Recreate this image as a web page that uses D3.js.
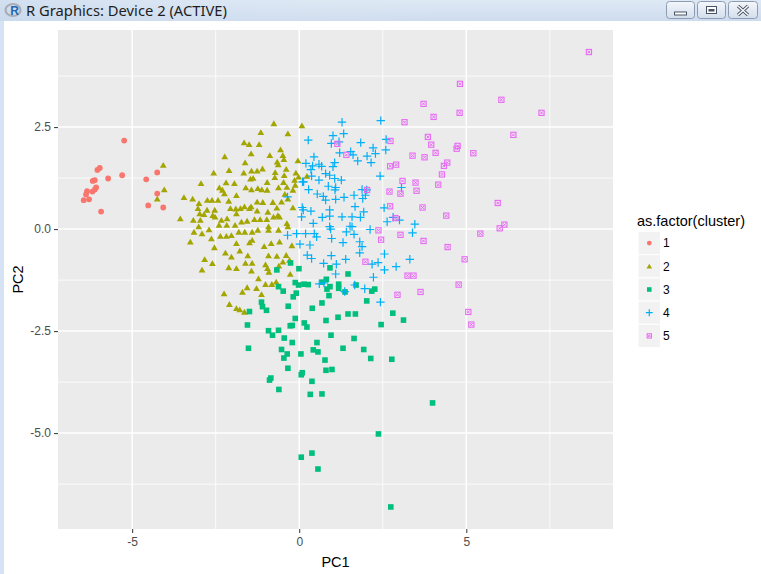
<!DOCTYPE html>
<html>
<head>
<meta charset="utf-8">
<script src="https://cdn.jsdelivr.net/npm/d3@7"></script>
<style>
html,body{margin:0;padding:0;background:#fff;}
svg{display:block;}
text{font-family:"Liberation Sans",Arial,sans-serif;}
</style>
</head>
<body>
<svg id="chart" width="761" height="574"></svg>
<script>
// ---------------- data ----------------
const clusterLabels = ["1","2","3","4","5"];
const clusterColors = ["#F8766D","#A3A500","#00BF7D","#00B0F6","#E76BF3"];
const xTicks = [-5, 0, 5];
const xMinor = [-2.5, 2.5, 7.5];
const yTicks = [2.5, 0, -2.5, -5];
const yMinor = [3.75, 1.25, -1.25, -3.75, -6.25];
const xLimits = [-7.22, 9.39];
const yLimits = [-7.35, 4.88];

const cluster1 = [[-5.24,2.17],[-5.97,1.50],[-6.04,1.45],[-6.18,1.18],[-6.12,1.20],[-5.72,1.24],[-5.30,1.32],[-6.08,1.02],[-6.12,0.97],[-6.19,0.92],[-6.35,0.93],[-6.38,0.85],[-6.29,0.73],[-6.45,0.71],[-5.93,0.43],[-4.58,1.22],[-4.25,1.39],[-4.25,0.87],[-4.52,0.58],[-4.07,0.53]];

const cluster2 = [[-0.76,2.59],[0.08,2.54],[-1.15,2.37],[-0.34,2.34],
[-1.65,2.12],[-1.50,2.08],[-1.20,2.08],[-0.56,1.95],
[-1.44,1.85],[-2.23,1.78],[-0.88,1.81],[-0.49,1.81],[-0.46,1.71],
[-1.62,1.63],[-0.66,1.65],[-0.63,1.58],[-0.04,1.68],[-4.07,1.57],
[-2.10,1.44],[-1.66,1.38],[-1.43,1.43],[-1.26,1.43],[-1.10,1.48],[-0.72,1.39],[-0.39,1.47],[-2.56,1.38],[-0.45,1.32],[-0.10,1.38],[-0.02,1.28],[0.23,1.30],
[-1.46,1.23],[-1.38,1.25],[-2.19,1.14],[-1.94,1.12],[-0.96,1.15],[-2.94,1.12],[-0.73,1.27],[-0.47,1.15],[-0.14,1.20],[-0.12,1.08],
[-2.39,1.02],[-2.30,0.96],[-2.24,0.87],[-1.60,1.02],[-1.43,0.97],[-1.24,1.00],[-1.12,0.97],[-0.96,0.96],[-0.62,1.02],[-0.37,1.03],[-0.19,0.96],[-0.43,0.86],[-1.88,0.83],[-4.04,0.97],
[-3.45,0.78],[-3.19,0.74],[-4.25,0.74],[-2.75,0.71],[-2.61,0.71],[-2.43,0.71],[-3.00,0.63],[-1.26,0.67],[-1.09,0.66],[-0.79,0.66],[-0.53,0.67],[-0.34,0.74],[-2.11,0.69],
[-3.03,0.51],[-2.76,0.47],[-2.53,0.47],[-2.06,0.51],[-1.90,0.50],[-1.76,0.51],[-1.64,0.55],[-1.49,0.51],[-1.44,0.55],[-1.26,0.45],[-0.94,0.42],[-0.67,0.52],[-0.19,0.53],[-2.98,0.38],[-2.85,0.36],[-2.59,0.34],[-1.88,0.38],[-0.64,0.34],
[-3.56,0.26],[-3.17,0.22],[-2.96,0.22],[-2.52,0.30],[-2.33,0.22],[-2.16,0.26],[-1.73,0.18],[-1.56,0.20],[-1.34,0.24],[-1.17,0.24],[-0.97,0.24],[-0.77,0.30],[-0.59,0.30],[-0.37,0.14],[-2.17,0.10],[-2.40,0.10],[-1.92,0.10],[-0.92,0.06],
[-3.01,0.06],[-2.70,-0.01],[-3.15,-0.07],[-2.91,-0.11],[-2.36,-0.17],[-2.18,-0.17],[-2.03,-0.15],[-1.81,-0.07],[-1.63,-0.07],[-1.41,-0.07],[-1.24,-0.02],[-0.92,-0.02],[-0.62,-0.02],[-0.34,0.06],[-2.63,-0.23],
[-3.26,-0.31],[-1.49,-0.33],[-1.41,-0.27],[-1.05,-0.42],[-0.84,-0.35],[-0.59,-0.31],[-0.22,-0.40],[-2.54,-0.45],[-1.88,-0.35],[-2.21,-0.58],[-1.78,-0.53],[-2.03,-0.68],
[-1.54,-0.65],[-0.92,-0.65],[-0.67,-0.66],[-0.39,-0.64],[-0.29,-0.76],[-0.49,-0.80],[-2.83,-0.74],[-2.60,-0.84],[-2.11,-0.94],[-1.88,-0.96],[-1.41,-0.83],[-1.61,-0.83],[-1.01,-0.87],[-0.95,-0.96],[-0.91,-1.05],[-2.91,-1.00],[-1.43,-1.02],[-0.61,-0.90],[-0.27,-1.10],
[-1.22,-1.21],[-1.01,-1.35],[-0.82,-1.35],[-0.69,-1.29],[-1.56,-1.43],[-1.28,-1.45],[-1.70,-1.54],[-2.25,-1.58],[-1.13,-1.60],[-2.09,-1.84],[-1.88,-1.94],[-1.78,-1.97],[-1.64,-2.03]];

const cluster3 = [[-0.67,-1.00],[-0.26,-0.83],[-0.01,-0.97],[0.92,-0.95],[1.46,-1.10],[-0.62,-1.41],[-0.48,-1.52],[-0.12,-1.31],[-0.02,-1.37],[0.14,-1.35],[0.27,-1.36],[0.69,-1.30],[0.81,-1.23],[0.92,-1.41],[0.83,-1.47],[1.18,-1.35],[1.18,-1.45],[1.37,-1.54],[1.70,-1.37],[2.26,-1.47],[2.17,-1.52],[0.89,-1.63],[-0.09,-1.57],[-0.18,-1.66],[2.02,-1.76],[-1.13,-1.79],[-1.10,-1.90],[-0.98,-1.99],[-1.49,-2.02],[-0.33,-1.89],[0.39,-1.94],[0.68,-1.81],[1.46,-2.08],[1.68,-2.08],[2.80,-2.06],[3.12,-2.23],[-0.12,-2.19],[0.80,-2.24],[1.16,-2.16],[-1.55,-2.35],[-0.92,-2.49],[-0.80,-2.60],[-0.62,-2.48],[-0.27,-2.37],[-0.21,-2.36],[0.15,-2.30],[0.23,-2.40],[2.45,-2.34],[-0.45,-2.67],[-0.21,-2.78],[0.53,-2.78],[0.95,-2.60],[1.64,-2.68],[-1.52,-2.92],[-0.53,-2.95],[-0.36,-3.06],[-0.46,-3.16],[0.05,-3.06],[0.42,-2.96],[0.56,-3.01],[1.31,-2.92],[1.93,-2.95],[2.14,-3.17],[2.77,-3.19],[0.77,-3.21],[-0.34,-3.41],[0.80,-3.46],[0.98,-3.44],[-0.85,-3.65],[-0.89,-3.70],[0.06,-3.57],[0.09,-3.52],[0.38,-3.73],[-0.61,-3.93],[0.33,-4.05],[0.68,-4.04],[3.99,-4.26],[2.37,-5.02],[0.38,-5.49],[0.06,-5.59],[0.56,-5.88],[2.74,-6.81]];

const cluster4 = [[1.28,2.62],[2.44,2.66],[0.27,2.18],[1.01,2.29],[1.33,2.34],[0.96,2.10],[1.19,2.14],[1.84,2.12],[2.60,2.20],[2.21,1.99],[2.59,1.94],[0.44,1.77],[1.21,1.87],[1.54,1.90],[1.61,1.82],[1.75,1.67],[2.03,1.79],[2.28,1.85],[2.15,1.63],[0.20,1.61],[0.40,1.55],[0.59,1.59],[0.67,1.54],[1.06,1.63],[1.01,1.53],[0.79,1.36],[0.91,1.32],[0.35,1.46],[0.59,1.20],[0.10,1.16],[1.06,1.24],[1.26,1.20],[2.42,1.30],[0.87,1.05],[1.09,1.02],[0.28,0.97],[0.54,0.86],[0.79,0.71],[1.09,0.73],[1.34,0.78],[1.64,0.83],[1.88,0.97],[1.90,0.75],[1.98,0.83],[3.06,1.02],[1.67,0.55],[1.93,0.42],[2.54,0.52],[0.09,0.53],[0.35,0.44],[0.91,0.47],[0.07,0.30],[0.69,0.29],[0.91,0.32],[1.28,0.30],[1.58,0.30],[1.83,0.29],[2.81,0.29],[2.63,0.18],[3.00,0.22],[3.46,0.12],[0.42,0.14],[0.91,0.06],[0.94,0.00],[1.58,0.06],[2.12,-0.01],[-0.35,-0.15],[-0.08,-0.11],[0.19,-0.11],[0.45,-0.11],[0.52,-0.19],[0.97,-0.23],[1.41,-0.07],[1.64,-0.13],[1.81,-0.31],[1.31,-0.33],[1.88,-0.43],[3.39,-0.09],[0.32,-0.39],[1.81,-0.58],[2.55,-0.61],[0.24,-0.64],[0.37,-0.72],[0.96,-0.65],[0.73,-0.84],[1.11,-0.86],[1.39,-0.74],[2.18,-0.86],[2.36,-0.82],[2.90,-0.92],[3.31,-0.74],[2.55,-1.00],[1.09,-1.10],[2.22,-1.18],[0.60,-1.34],[0.74,-1.32],[1.36,-1.53],[1.66,-1.37],[1.96,-1.46],[2.43,-1.79],[-0.35,0.79],[0.02,-0.37],[0.13,1.16],[0.37,1.30],[1.07,0.96],[0.72,0.80],[2.02,0.96],[1.52,0.07],[0.12,0.47]];

const cluster5 = [[4.81,3.56],[6.05,3.17],[3.72,3.07],[4.02,2.75],[4.80,2.85],[7.25,2.85],[3.15,2.62],[6.41,2.31],[3.85,2.26],[3.95,2.07],[2.73,2.16],[4.74,2.04],[4.71,1.97],[5.21,1.86],[4.08,1.87],[3.39,1.80],[3.75,1.76],[4.43,1.63],[4.33,1.55],[2.72,1.54],[2.90,1.58],[4.27,1.34],[3.09,1.18],[3.48,1.14],[4.16,1.09],[3.51,0.94],[2.70,0.92],[3.03,0.87],[5.94,0.64],[3.69,0.53],[2.72,0.56],[4.40,0.33],[2.88,0.27],[6.14,0.11],[6.00,0.02],[5.42,-0.11],[2.37,-0.03],[3.03,-0.14],[2.45,-0.26],[3.72,-0.29],[4.44,-0.44],[4.95,-0.74],[1.98,-0.80],[3.24,-1.14],[3.42,-1.14],[4.77,-1.36],[3.63,-1.54],[2.94,-1.61],[5.06,-2.03],[5.15,-2.34],[1.14,2.09],[1.41,1.82],[2.03,0.96],[8.67,4.34]];

const clusters = [cluster1, cluster2, cluster3, cluster4, cluster5];

// ---------------- drawing ----------------
const svg = d3.select("#chart");
const W = 761, H = 574;
const panel = {left: 58, right: 613, top: 30, bottom: 529};

// window chrome
const defs = svg.append("defs");
const tg = defs.append("linearGradient").attr("id","titleg").attr("x1",0).attr("y1",0).attr("x2",0).attr("y2",1);
tg.append("stop").attr("offset","0%").attr("stop-color","#dfe9f5");
tg.append("stop").attr("offset","100%").attr("stop-color","#cddcee");
const hg = defs.append("linearGradient").attr("id","titleh").attr("x1",0).attr("y1",0).attr("x2",1).attr("y2",0);
hg.append("stop").attr("offset","0%").attr("stop-color","#c8d8ec").attr("stop-opacity",0.6);
hg.append("stop").attr("offset","60%").attr("stop-color","#e4ecf6").attr("stop-opacity",0);
const bg = defs.append("linearGradient").attr("id","btng").attr("x1",0).attr("y1",0).attr("x2",0).attr("y2",1);
bg.append("stop").attr("offset","0%").attr("stop-color","#f4f7fb");
bg.append("stop").attr("offset","100%").attr("stop-color","#d3deec");

svg.append("rect").attr("x",0).attr("y",0).attr("width",W).attr("height",H).attr("fill","#ffffff");
svg.append("rect").attr("x",0).attr("y",0).attr("width",W).attr("height",21).attr("fill","url(#titleg)");
svg.append("rect").attr("x",0).attr("y",0).attr("width",W).attr("height",21).attr("fill","url(#titleh)");
svg.append("rect").attr("x",0).attr("y",21).attr("width",4).attr("height",H-21).attr("fill","#d5e3f4");

// R icon
const icon = svg.append("g").attr("transform","translate(13,10)");
icon.append("ellipse").attr("rx",7.5).attr("ry",6).attr("fill","none").attr("stroke","#a9adb5").attr("stroke-width",2.2);
icon.append("text").attr("x",1.5).attr("y",5).attr("text-anchor","middle").attr("font-size",12).attr("font-weight","bold").attr("fill","#2266b8").text("R");

svg.append("text").attr("x",26).attr("y",15.5).attr("font-size",13.5).attr("fill","#1e1e1e")
  .attr("textLength",201).attr("lengthAdjust","spacingAndGlyphs")
  .style("font-family","'Noto Sans','DejaVu Sans',sans-serif").text("R Graphics: Device 2 (ACTIVE)");

// window buttons
const buttons = [{x:666,w:29,type:"min"},{x:697,w:29,type:"max"},{x:728,w:30,type:"close"}];
buttons.forEach(b => {
  svg.append("rect").attr("x",b.x+0.5).attr("y",1.5).attr("width",b.w-1).attr("height",17).attr("rx",3)
    .attr("fill","url(#btng)").attr("stroke","#8d9bb0");
  const cx = b.x + b.w/2;
  if (b.type==="min") {
    svg.append("rect").attr("x",cx-6).attr("y",12).attr("width",12).attr("height",3).attr("fill","#fff").attr("stroke","#4a5464").attr("stroke-width",1);
  } else if (b.type==="max") {
    svg.append("rect").attr("x",cx-5).attr("y",6.5).attr("width",10).attr("height",7).attr("fill","#fff").attr("stroke","#4a5464").attr("stroke-width",1);
    svg.append("rect").attr("x",cx-3).attr("y",9).attr("width",6).attr("height",2.5).attr("fill","#4a5464");
  } else {
    svg.append("path").attr("d",`M${cx-5},${6} L${cx+5},${15} M${cx+5},${6} L${cx-5},${15}`)
      .attr("stroke","#4a5464").attr("stroke-width",3.2).attr("fill","none");
    svg.append("path").attr("d",`M${cx-5},${6} L${cx+5},${15} M${cx+5},${6} L${cx-5},${15}`)
      .attr("stroke","#ffffff").attr("stroke-width",1.4).attr("fill","none");
  }
});

// scales
const x = d3.scaleLinear().domain(xLimits).range([panel.left, panel.right]);
const y = d3.scaleLinear().domain(yLimits).range([panel.bottom, panel.top]);

// panel
svg.append("rect").attr("x",panel.left).attr("y",panel.top)
  .attr("width",panel.right-panel.left).attr("height",panel.bottom-panel.top).attr("fill","#EBEBEB");

const grid = svg.append("g");
grid.selectAll(".vmin").data(xMinor).join("line")
  .attr("x1",d=>x(d)).attr("x2",d=>x(d)).attr("y1",panel.top).attr("y2",panel.bottom)
  .attr("stroke","#fff").attr("stroke-width",0.8);
grid.selectAll(".hmin").data(yMinor).join("line")
  .attr("y1",d=>y(d)).attr("y2",d=>y(d)).attr("x1",panel.left).attr("x2",panel.right)
  .attr("stroke","#fff").attr("stroke-width",0.8);
grid.selectAll(".vmaj").data(xTicks).join("line")
  .attr("x1",d=>x(d)).attr("x2",d=>x(d)).attr("y1",panel.top).attr("y2",panel.bottom)
  .attr("stroke","#fff").attr("stroke-width",1.5);
grid.selectAll(".hmaj").data(yTicks).join("line")
  .attr("y1",d=>y(d)).attr("y2",d=>y(d)).attr("x1",panel.left).attr("x2",panel.right)
  .attr("stroke","#fff").attr("stroke-width",1.5);

// axes
const xAxis = d3.axisBottom(x).tickValues(xTicks).tickFormat(d3.format("d")).tickSize(4).tickPadding(4);
const yAxis = d3.axisLeft(y).tickValues(yTicks).tickFormat(d3.format(".1f")).tickSize(4).tickPadding(3);
const gx = svg.append("g").attr("transform",`translate(0,${panel.bottom})`).call(xAxis);
const gy = svg.append("g").attr("transform",`translate(${panel.left},0)`).call(yAxis);
[gx,gy].forEach(g=>{
  g.select(".domain").remove();
  g.selectAll(".tick line").attr("stroke","#333333").attr("stroke-width",1);
  g.selectAll(".tick text").attr("fill","#4D4D4D").attr("font-size",12)
    .style("font-family","'Liberation Sans',Arial,sans-serif");
});
gy.selectAll(".tick text").text(d=>d3.format(".1f")(d).replace("−","-"));
gx.selectAll(".tick text").text(d=>String(d));

svg.append("text").attr("x",(panel.left+panel.right)/2).attr("y",567).attr("text-anchor","middle")
  .attr("font-size",14.5).attr("fill","#000").text("PC1");
svg.append("text").attr("transform",`translate(23,${(panel.top+panel.bottom)/2}) rotate(-90)`)
  .attr("text-anchor","middle").attr("font-size",14.5).attr("fill","#000").text("PC2");

// marks
function drawShape(g, k, s) {
  const col = clusterColors[k];
  if (k===0) {
    g.append("circle").attr("r",2.9*s).attr("fill",col);
  } else if (k===1) {
    g.append("path").attr("d",`M0,${-3.1*s} L${3.4*s},${2.7*s} L${-3.4*s},${2.7*s} Z`).attr("fill",col);
  } else if (k===2) {
    g.append("rect").attr("x",-2.8*s).attr("y",-2.8*s).attr("width",5.6*s).attr("height",5.6*s).attr("fill",col);
  } else if (k===3) {
    g.append("path").attr("d",`M${-4.2*s},0 H${4.2*s} M0,${-4.2*s} V${4.2*s}`).attr("stroke",col).attr("stroke-width",1.2).attr("fill","none");
  } else {
    g.append("rect").attr("x",-2.6*s).attr("y",-2.6*s).attr("width",5.2*s).attr("height",5.2*s).attr("fill","none").attr("stroke",col).attr("stroke-width",1.1);
    g.append("path").attr("d",`M${-1.4*s},${-1.4*s} L${1.4*s},${1.4*s} M${1.4*s},${-1.4*s} L${-1.4*s},${1.4*s}`).attr("stroke",col).attr("stroke-width",1).attr("fill","none");
  }
}

const marks = svg.append("g");
clusters.forEach((pts, k) => {
  const gk = marks.append("g").attr("class","cluster"+(k+1));
  gk.selectAll("g").data(pts).join("g")
    .attr("transform", d => `translate(${x(d[0])},${y(d[1])})`)
    .each(function(){ drawShape(d3.select(this), k, 1); });
});

// legend
const lg = svg.append("g");
lg.append("text").attr("x",637).attr("y",226).attr("font-size",14.5).attr("fill","#000").text("as.factor(cluster)");
const keyTop = 231.5, keyH = 23.2;
clusterLabels.forEach((lab,i)=>{
  const ky = keyTop + i*keyH;
  lg.append("rect").attr("x",638).attr("y",ky).attr("width",22.5).attr("height",keyH)
    .attr("fill","#F2F2F2").attr("stroke","#ffffff").attr("stroke-width",1);
  const g = lg.append("g").attr("transform",`translate(${649.3},${ky+keyH/2})`);
  drawShape(g, i, 0.82);
  lg.append("text").attr("x",663).attr("y",ky+keyH/2+4.3).attr("font-size",12).attr("fill","#000").text(lab);
});
</script>
</body>
</html>
